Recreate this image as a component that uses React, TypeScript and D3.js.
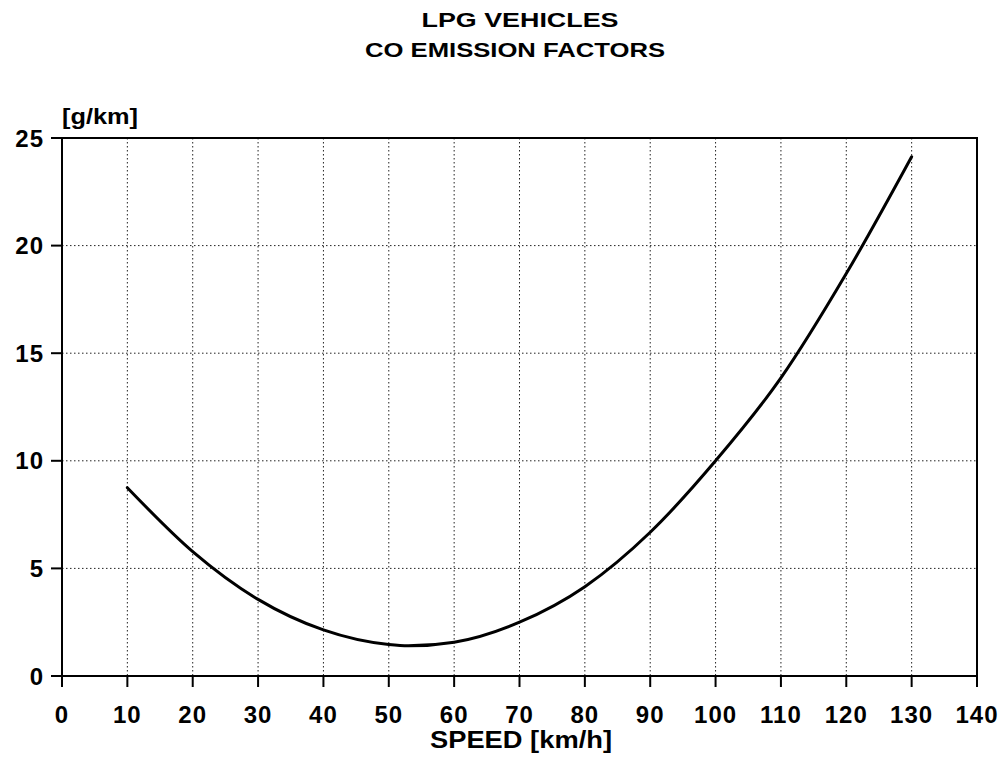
import React from "react";
import * as d3 from "d3";

const speeds = [10, 20, 30, 40, 50, 53, 60, 70, 80, 90, 100, 110, 120, 130];
const coValues = [8.75, 5.78, 3.56, 2.14, 1.46, 1.4, 1.57, 2.5, 4.15, 6.68, 10.0, 13.85, 18.7, 24.13];
const xTicks = [0, 10, 20, 30, 40, 50, 60, 70, 80, 90, 100, 110, 120, 130, 140];
const yTicks = [0, 5, 10, 15, 20, 25];
const titleLines = ["LPG VEHICLES", "CO EMISSION FACTORS"];
const xLabel = "SPEED [km/h]";
const yLabel = "[g/km]";

const W = 1007;
const H = 760;
const FONT = "'Liberation Sans', Arial, Helvetica, sans-serif";

export default function App() {
  const x = d3.scaleLinear().domain([0, 140]).range([62, 977]);
  const y = d3.scaleLinear().domain([0, 25]).range([676, 138]);
  const pts = speeds.map((s, i) => [s, coValues[i]] as [number, number]);
  const line = d3
    .line<[number, number]>()
    .x((d) => x(d[0]))
    .y((d) => y(d[1]))
    .curve(d3.curveMonotoneX);

  return (
    <svg width={W} height={H} style={{ position: "absolute", left: 0, top: 0, background: "#fff" }}>
      <rect x={0} y={0} width={W} height={H} fill="#fff" />
      {/* title */}
      <text x={520} y={27} textAnchor="middle" fontFamily={FONT} fontWeight="bold" fontSize={21}
        textLength={197} lengthAdjust="spacingAndGlyphs">{titleLines[0]}</text>
      <text x={515} y={57} textAnchor="middle" fontFamily={FONT} fontWeight="bold" fontSize={21}
        textLength={300} lengthAdjust="spacingAndGlyphs">{titleLines[1]}</text>
      {/* y unit label */}
      <text x={62} y={124} fontFamily={FONT} fontWeight="bold" fontSize={22}
        textLength={76} lengthAdjust="spacingAndGlyphs">{yLabel}</text>
      {/* grid */}
      {xTicks.filter((t) => t > 0 && t < 140).map((t) => (
        <line key={"gx" + t} x1={x(t)} x2={x(t)} y1={y(25)} y2={y(0)} stroke="#222" strokeWidth={1}
          strokeDasharray="1.5,2.5" />
      ))}
      {yTicks.filter((t) => t > 0 && t < 25).map((t) => (
        <line key={"gy" + t} x1={x(0)} x2={x(140)} y1={y(t)} y2={y(t)} stroke="#222" strokeWidth={1}
          strokeDasharray="1.5,2.5" />
      ))}
      {/* frame */}
      <rect x={x(0)} y={y(25)} width={x(140) - x(0)} height={y(0) - y(25)} fill="none" stroke="#000" strokeWidth={2} />
      {/* x ticks */}
      {xTicks.map((t) => (
        <g key={"xt" + t}>
          <line x1={x(t)} x2={x(t)} y1={y(0)} y2={y(0) + 11} stroke="#000" strokeWidth={2} />
          <text x={x(t)} y={723} textAnchor="middle" fontFamily={FONT} fontWeight="bold" fontSize={24}
            letterSpacing={1}>{t}</text>
        </g>
      ))}
      {/* y ticks */}
      {yTicks.map((t) => (
        <g key={"yt" + t}>
          <line x1={x(0) - 11} x2={x(0)} y1={y(t)} y2={y(t)} stroke="#000" strokeWidth={2} />
          <text x={44} y={y(t) + 8.5} textAnchor="end" fontFamily={FONT} fontWeight="bold" fontSize={24}
            letterSpacing={1}>{t}</text>
        </g>
      ))}
      {/* x label */}
      <text x={521} y={748} textAnchor="middle" fontFamily={FONT} fontWeight="bold" fontSize={23}
        textLength={182} lengthAdjust="spacingAndGlyphs">{xLabel}</text>
      {/* curve */}
      <path d={line(pts) || ""} fill="none" stroke="#000" strokeWidth={3} strokeLinejoin="round" strokeLinecap="round" />
    </svg>
  );
}
